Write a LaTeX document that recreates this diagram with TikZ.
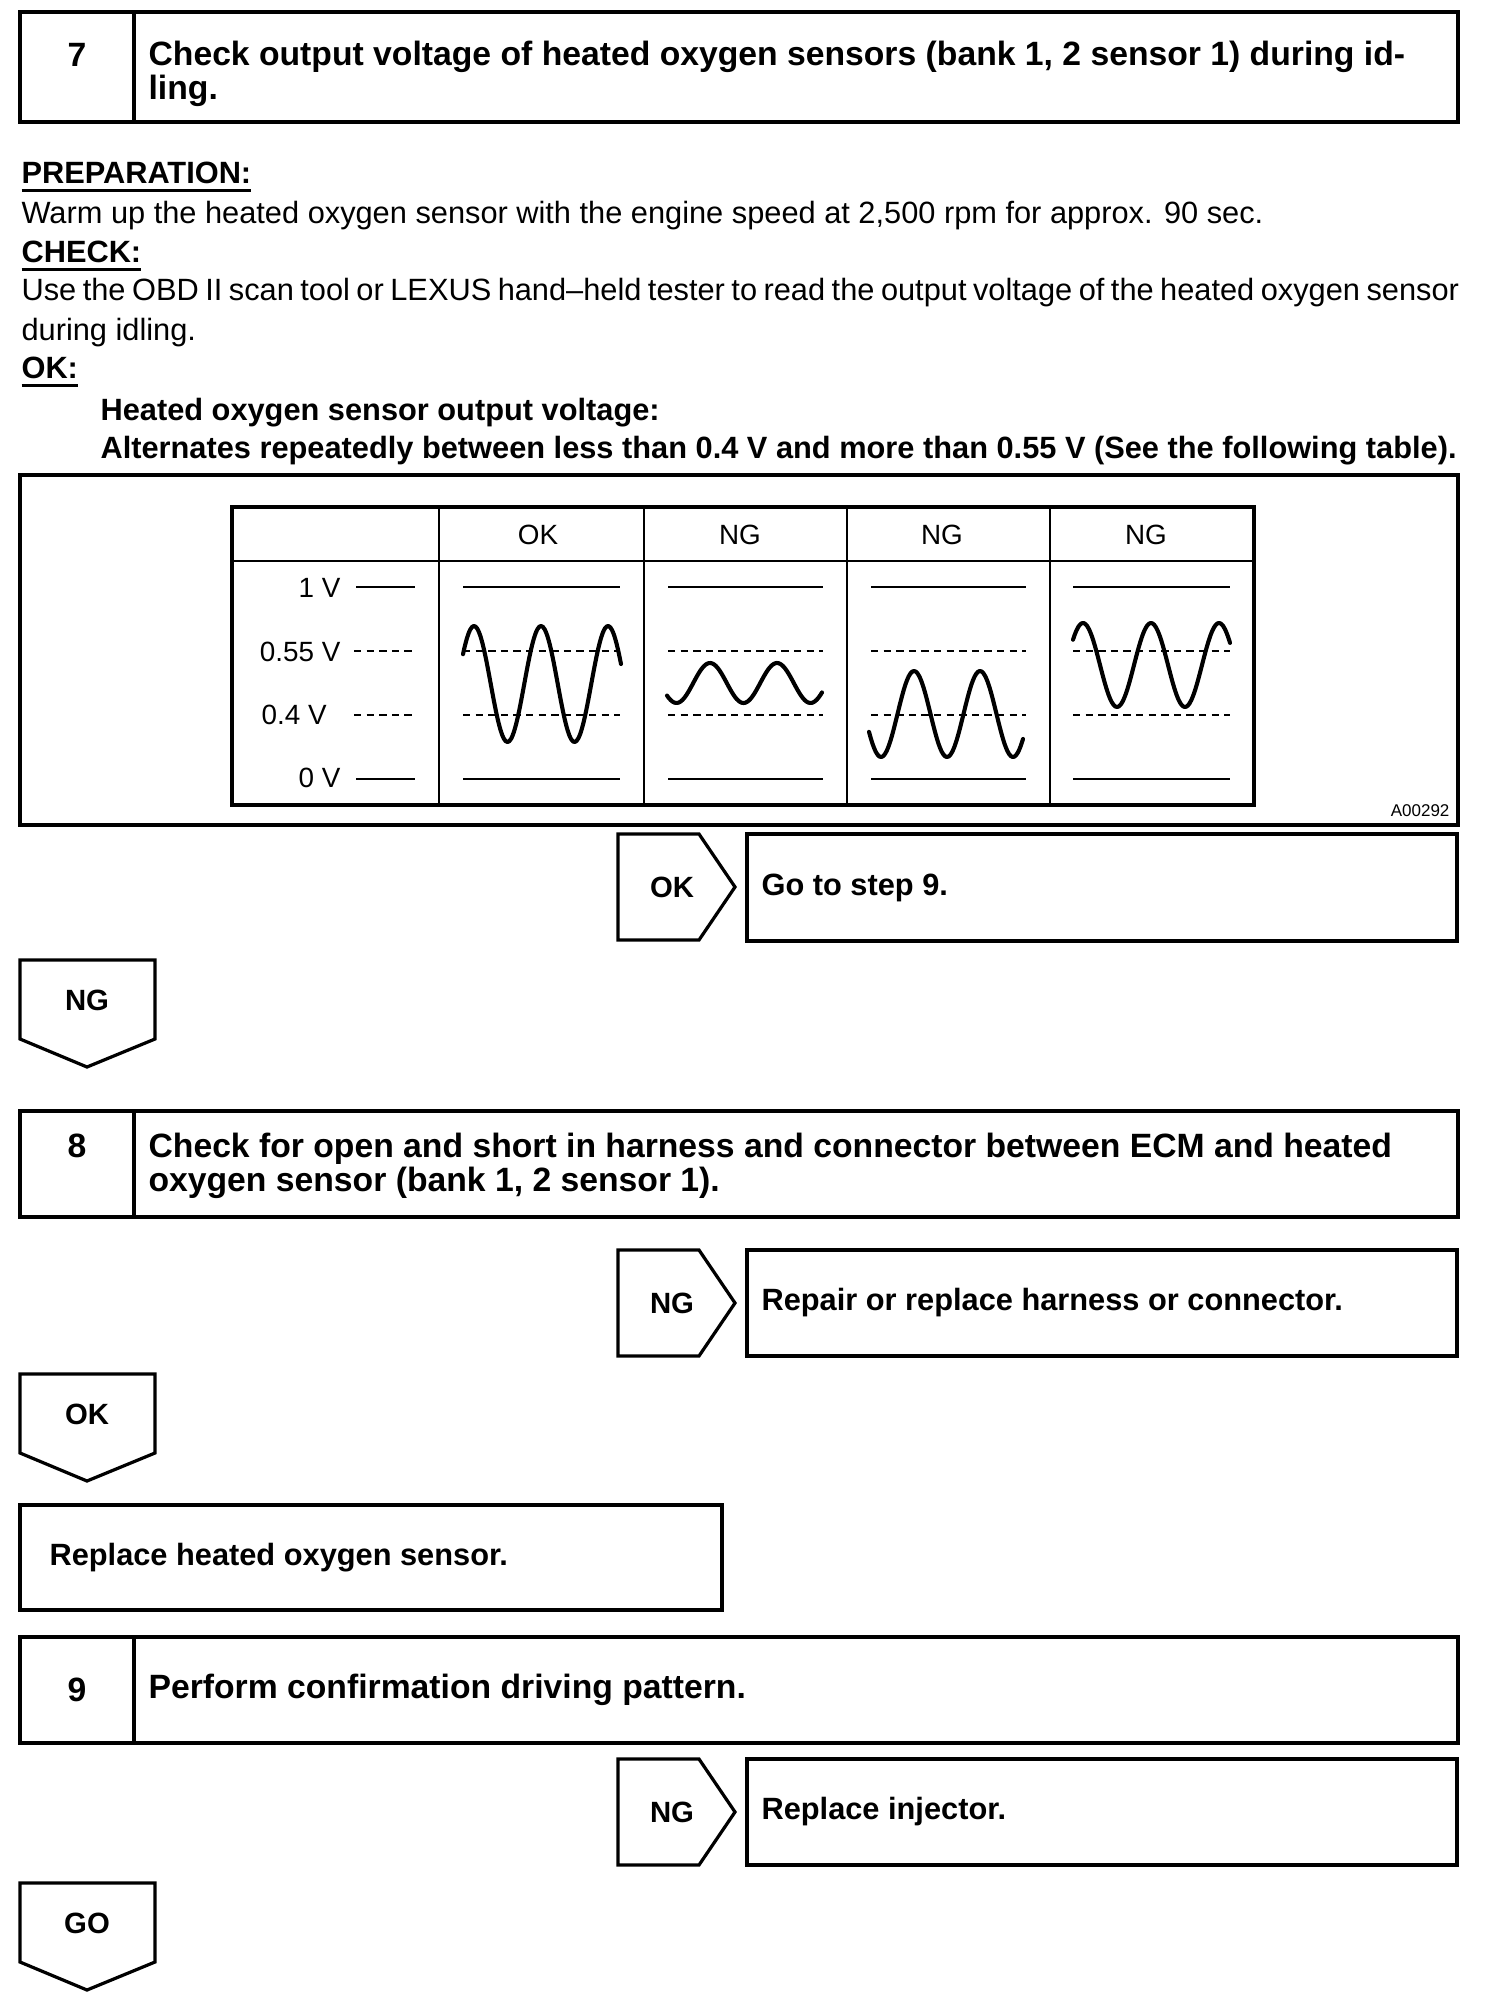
\documentclass[tikz,border=0pt]{standalone}
\usepackage{fontspec}
\setmainfont{Liberation Sans}
\usetikzlibrary{positioning,calc}

% underlined run-in heading
\newcommand{\hdr}[1]{\setbox0=\hbox{\bfseries #1}\rlap{\rule[-2.6pt]{\wd0}{1pt}}\box0}

\tikzset{
    pics/goright/.style={code={
        \draw[frame] (0,0) -- (81,0) -- (117,53) -- (81,106) -- (0,106) -- cycle;
        \node[tag] (-lbl) at (54,53) {#1};
    }},
    pics/godown/.style={code={
        \draw[frame] (0,0) -- (135,0) -- (135,79) -- (67,107) -- (0,79) -- cycle;
        \node[tag] (-lbl) at (67,40) {#1};
    }},
}

\begin{document}
\begin{tikzpicture}[
    x=0.012cm, y=-0.012cm,
    frame/.style={draw, line width=1.1pt},
    rule/.style={line width=1pt},
    level/.style={line width=0.9pt},
    dashlevel/.style={line width=0.9pt, dash pattern=on 2.5pt off 1.8pt},
    wave/.style={line width=1.4pt, line join=round, line cap=round},
    body/.style={anchor=base west, inner sep=0pt, font=\fontsize{10.5}{13}\selectfont},
    spec/.style={body, font=\fontsize{10.5}{13}\selectfont\bfseries},
    title/.style={anchor=west, inner sep=0pt, align=left, font=\fontsize{11.5}{11.6}\selectfont\bfseries},
    stepno/.style={inner sep=0pt, font=\fontsize{11.5}{12}\selectfont\bfseries},
    tag/.style={inner sep=0pt, font=\fontsize{10}{12}\selectfont\bfseries},
    result/.style={anchor=west, inner sep=0pt, font=\fontsize{10.5}{12}\selectfont\bfseries},
    volt/.style={inner sep=0pt, font=\fontsize{9.5}{11}\selectfont},
]

\useasboundingbox (0,0) rectangle (1504,2012);

% Step 7
\draw[frame] (20,12) rectangle (1458,122);
\draw[frame] (134,12) -- (134,122);
\node[stepno] (no7) at (77,55) {7};
\node[title] (ti7) at (148,74) {Check output voltage of heated oxygen sensors (bank 1, 2 sensor 1) during id-\\ling.};

% Preparation / check text
\node[body] (prep) at (21,184) {\hdr{PREPARATION:}};
\node[body] (warm) at (21,224) {Warm up the heated oxygen sensor with the engine speed at 2,500 rpm for approx. 90 sec.};
\node[body] (chk) at (21,263) {\hdr{CHECK:}};
\node[body] (use) at (21,301) {\makebox[17.24cm][s]{Use the OBD II scan tool or LEXUS hand–held tester to read the output voltage of the heated oxygen sensor}};
\node[body] (idle) at (21,341) {during idling.};
\node[body] (okhd) at (21,379) {\hdr{OK:}};
\node[spec] (spec1) at (100,421) {Heated oxygen sensor output voltage:};
\node[spec] (spec2) at (100,459) {Alternates repeatedly between less than 0.4 V and more than 0.55 V (See the following table).};

% Waveform figure
\draw[frame] (20,475) rectangle (1458,825);
\draw[frame] (232,507) rectangle (1254,805);
\draw[rule] (232,561) -- (1254,561);
\foreach \cx in {439,644,847,1050}
    \draw[rule] (\cx,507) -- (\cx,805);
\foreach \cx/\txt [count=\i] in {538/OK, 740/NG, 942/NG, 1146/NG}
    \node[volt] (hd\i) at (\cx,535) {\txt};

% voltage scale
\node[volt, anchor=east] (v1) at (341,588) {1 V};
\node[volt, anchor=east] (v055) at (341,652) {0.55 V};
\node[volt, anchor=west] (v04) at (261,715) {0.4 V};
\node[volt, anchor=east] (v0) at (341,778) {0 V};
\draw[level] (356,587) -- (415,587);
\draw[dashlevel] (354,651) -- (414,651);
\draw[dashlevel] (354,715) -- (414,715);
\draw[level] (356,779) -- (415,779);

\foreach \l/\r in {463/620, 668/823, 871/1026, 1073/1230} {
    \draw[level] (\l,587) -- (\r,587);
    \draw[dashlevel] (\l,651) -- (\r,651);
    \draw[dashlevel] (\l,715) -- (\r,715);
    \draw[level] (\l,779) -- (\r,779);
}

% signals
\draw[wave] plot[domain=463:621, samples=90, smooth] (\x,{684-58*cos((\x-474)/67*360)});
\draw[wave] plot[domain=667:822, samples=90, smooth] (\x,{683-20*cos((\x-710)/67*360)});
\draw[wave] plot[domain=869:1023, samples=90, smooth] (\x,{714-43*cos((\x-914)/66*360)});
\draw[wave] plot[domain=1073:1230, samples=90, smooth] (\x,{665-42*cos((\x-1083)/68*360)});

\node[inner sep=0pt, anchor=east, font=\fontsize{5.8}{7}\selectfont] (figid) at (1450,811) {A00292};

% Result of step 7
\pic (ok7) at (618,834) {goright=OK};
\draw[frame] (747,834) rectangle (1457,941);
\node[result] (res7) at (761,888) {Go to step 9.};
\pic (ng7) at (20,960) {godown=NG};

% Step 8
\draw[frame] (20,1111) rectangle (1458,1217);
\draw[frame] (134,1111) -- (134,1217);
\node[stepno] (no8) at (77,1146) {8};
\node[title] (ti8) at (148,1166) {Check for open and short in harness and connector between ECM and heated\\oxygen sensor (bank 1, 2 sensor 1).};

\pic (ng8) at (618,1250) {goright=NG};
\draw[frame] (747,1250) rectangle (1457,1356);
\node[result] (res8) at (761,1303) {Repair or replace harness or connector.};
\pic (ok8) at (20,1374) {godown=OK};

\draw[frame] (20,1505) rectangle (722,1610);
\node[result] (repl) at (49,1558) {Replace heated oxygen sensor.};

% Step 9
\draw[frame] (20,1637) rectangle (1458,1743);
\draw[frame] (134,1637) -- (134,1743);
\node[stepno] (no9) at (77,1690) {9};
\node[title] (ti9) at (148,1690) {Perform confirmation driving pattern.};

\pic (ng9) at (618,1759) {goright=NG};
\draw[frame] (747,1759) rectangle (1457,1865);
\node[result] (res9) at (761,1812) {Replace injector.};
\pic (go9) at (20,1883) {godown=GO};

\end{tikzpicture}
\end{document}
